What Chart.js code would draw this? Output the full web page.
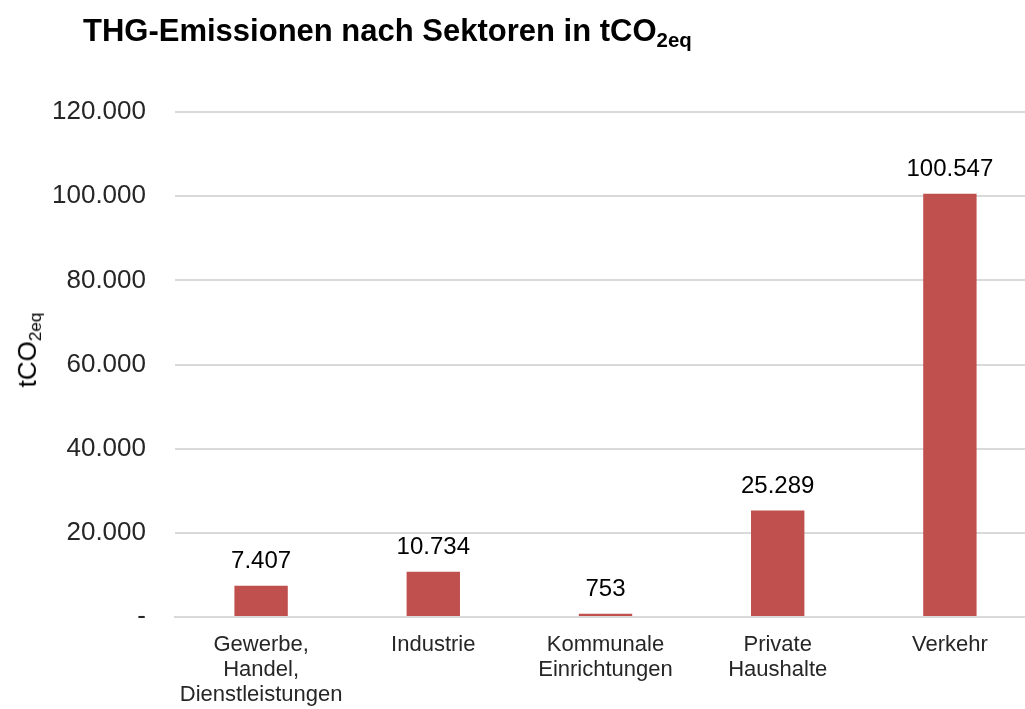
<!DOCTYPE html>
<html>
<head>
<meta charset="utf-8">
<script src="https://cdn.jsdelivr.net/npm/chart.js@4.4.1/dist/chart.umd.min.js"></script>
<style>
    html, body { margin: 0; padding: 0; background: #fff; overflow: hidden; }
    #wrap { position: relative; width: 1025px; height: 709px; overflow: hidden; }
    #box { position: absolute; left: 0; top: 0; width: 1036px; height: 709px; }
    #title {
        position: absolute; left: 83px; top: 13px; white-space: nowrap;
        font-family: "Liberation Sans", Arial, sans-serif; font-weight: bold;
        font-size: 31px; color: #000; letter-spacing: 0px;
    }
    #title sub, #ytitle sub { font-size: 0.66em; vertical-align: -0.3em; }
    #ytitle {
        position: absolute; left: 29px; top: 350px; white-space: nowrap;
        font-family: "Liberation Sans", Arial, sans-serif; font-size: 26px; color: #000;
        transform: translate(-50%, -50%) rotate(-90deg);
    }
</style>
</head>
<body>
<div id="wrap">
    <div id="box"><canvas id="chart"></canvas></div>
    <div id="title">THG-Emissionen nach Sektoren in tCO<sub>2eq</sub></div>
    <div id="ytitle">tCO<sub>2eq</sub></div>
</div>
<script>
// Sektoren und Emissionen (tCO2eq)
const sectors = [
    ['Gewerbe,', 'Handel,', 'Dienstleistungen'],
    'Industrie',
    ['Kommunale', 'Einrichtungen'],
    ['Private', 'Haushalte'],
    'Verkehr'
];
const emissions = [7407, 10734, 753, 25289, 100547];
const yTicks = [0, 20000, 40000, 60000, 80000, 100000, 120000];

const barColor = '#C0504D';
const textColor = '#262626';
const gridColor = '#D9D9D9';

function fmt(v) {
    if (v === 0) return '-';
    return v.toLocaleString('de-DE');
}

// draw value labels above the bars
const valueLabels = {
    id: 'valueLabels',
    afterDatasetsDraw(chart) {
        const ctx = chart.ctx;
        const meta = chart.getDatasetMeta(0);
        ctx.save();
        ctx.font = '24px "Liberation Sans", Arial, sans-serif';
        ctx.fillStyle = '#000';
        ctx.textAlign = 'center';
        ctx.textBaseline = 'alphabetic';
        meta.data.forEach((bar, i) => {
            ctx.fillText(fmt(emissions[i]), bar.x, bar.y - 18);
        });
        ctx.restore();
    }
};

Chart.defaults.font.family = '"Liberation Sans", Arial, sans-serif';

new Chart(document.getElementById('chart'), {
    type: 'bar',
    data: {
        labels: sectors,
        datasets: [{
            data: emissions,
            backgroundColor: barColor,
            categoryPercentage: 1,
            barPercentage: 0.31
        }]
    },
    options: {
        responsive: true,
        maintainAspectRatio: false,
        animation: false,
        layout: { padding: { top: 112, right: 0, left: 0, bottom: 0 } },
        plugins: {
            legend: { display: false },
            tooltip: { enabled: false }
        },
        scales: {
            x: {
                afterFit(scale) { scale.height = 92; },
                grid: { display: false, drawTicks: false },
                border: { color: gridColor, width: 2 },
                ticks: {
                    color: textColor,
                    font: { size: 22, lineHeight: 1.14 },
                    padding: 15,
                    maxRotation: 0
                }
            },
            y: {
                min: 0,
                max: 120000,
                afterFit(scale) { scale.width = 175; },
                afterBuildTicks(scale) { scale.ticks = yTicks.map(v => ({ value: v })); },
                grid: { color: gridColor, lineWidth: 2, drawTicks: false },
                border: { display: false },
                ticks: {
                    color: textColor,
                    font: { size: 26 },
                    padding: 29,
                    callback: v => fmt(v)
                }
            }
        }
    },
    plugins: [valueLabels]
});
</script>
</body>
</html>
